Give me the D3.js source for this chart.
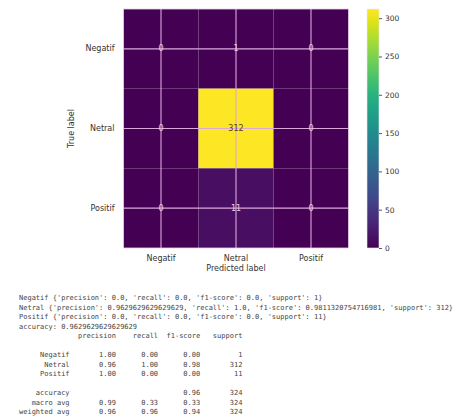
<!DOCTYPE html>
<html>
<head>
<meta charset="utf-8">
<script src="https://cdn.jsdelivr.net/npm/d3@7"></script>
<style>
  html, body { margin: 0; padding: 0; background: #fff; }
  svg { display: block; }
</style>
</head>
<body>
<svg id="chart" width="458" height="420"></svg>
<script>
// Class names shared by both axes
const classes = ["Negatif", "Netral", "Positif"];

// Confusion matrix: rows = true label, columns = predicted label
const matrix = [
  [0, 1, 0],
  [0, 312, 0],
  [0, 11, 0]
];

// Colour bar tick values
const colorTicks = [0, 50, 100, 150, 200, 250, 300];

// Per-class metrics as printed from the report dictionary
const dictPrecision = ["0.0", "0.9629629629629629", "0.0"];
const dictRecall = ["0.0", "1.0", "0.0"];
const dictF1 = ["0.0", "0.9811320754716981", "0.0"];
const dictSupport = [1, 312, 11];
const accuracyValue = "0.9629629629629629";

// Formatted classification report rows
const reportNames = ["Negatif", "Netral", "Positif"];
const reportPrecision = [1.00, 0.96, 1.00];
const reportRecall = [0.00, 1.00, 0.00];
const reportF1 = [0.00, 0.98, 0.00];
const reportSupport = [1, 312, 11];
const summaryNames = ["accuracy", "macro avg", "weighted avg"];
const summaryPrecision = [null, 0.99, 0.96];
const summaryRecall = [null, 0.33, 0.96];
const summaryF1 = [0.96, 0.33, 0.94];
const summarySupport = [324, 324, 324];

(function draw() {
const svg = d3.select("#chart");
const font = "'DejaVu Sans', sans-serif";

// ---- heatmap ----
const x0 = 123.5, x1 = 348.5, y0 = 9, y1 = 248;
const x = d3.scaleBand().domain(classes).range([x0, x1]);
const y = d3.scaleBand().domain(classes).range([y0, y1]);
const maxVal = d3.max(matrix.flat());
const color = d3.scaleSequential(d3.interpolateViridis).domain([0, maxVal]);

const cells = [];
matrix.forEach((row, i) => row.forEach((v, j) => cells.push({ t: classes[i], p: classes[j], v })));

svg.append("g").selectAll("rect")
  .data(cells)
  .join("rect")
  .attr("x", d => x(d.p))
  .attr("y", d => y(d.t))
  .attr("width", x.bandwidth())
  .attr("height", y.bandwidth())
  .attr("fill", d => color(d.v));

// grid lines through the cell centres
const grid = svg.append("g").attr("stroke", "#dca8dc").attr("stroke-width", 1.1);
classes.forEach(c => {
  const cx = x(c) + x.bandwidth() / 2;
  grid.append("line").attr("x1", cx).attr("x2", cx).attr("y1", y0).attr("y2", y1);
  const cy = y(c) + y.bandwidth() / 2;
  grid.append("line").attr("x1", x0).attr("x2", x1).attr("y1", cy).attr("y2", cy);
});

// outline
svg.append("rect")
  .attr("x", x0).attr("y", y0)
  .attr("width", x1 - x0).attr("height", y1 - y0)
  .attr("fill", "none").attr("stroke", "#e8cfe8").attr("stroke-width", 0.8);

// cell counts
svg.append("g").selectAll("text")
  .data(cells)
  .join("text")
  .attr("x", d => x(d.p) + x.bandwidth() / 2)
  .attr("y", d => y(d.t) + y.bandwidth() / 2)
  .attr("text-anchor", "middle")
  .attr("dominant-baseline", "central")
  .attr("font-family", font)
  .attr("font-size", 8)
  .attr("fill", d => d.v > maxVal / 2 ? "#5a3a10" : "#f0cce8")
  .text(d => d.v);

// axes
const xAxis = svg.append("g")
  .attr("transform", `translate(0,${y1})`)
  .call(d3.axisBottom(x).tickSize(0).tickPadding(7));
const yAxis = svg.append("g")
  .attr("transform", `translate(${x0},0)`)
  .call(d3.axisLeft(y).tickSize(0).tickPadding(9));
[xAxis, yAxis].forEach(g => {
  g.select(".domain").remove();
  g.selectAll("text").attr("font-family", font).attr("font-size", 8).attr("fill", "#333");
});

svg.append("text")
  .attr("x", (x0 + x1) / 2).attr("y", 271)
  .attr("text-anchor", "middle")
  .attr("font-family", font).attr("font-size", 8).attr("fill", "#333")
  .text("Predicted label");

svg.append("text")
  .attr("transform", `translate(74,${(y0 + y1) / 2}) rotate(-90)`)
  .attr("text-anchor", "middle")
  .attr("font-family", font).attr("font-size", 8).attr("fill", "#333")
  .text("True label");

// ---- colour bar ----
const cbX = 367, cbW = 12;
const cbScale = d3.scaleLinear().domain([0, maxVal]).range([y1, y0]);
const defs = svg.append("defs");
const grad = defs.append("linearGradient")
  .attr("id", "viridis-bar")
  .attr("x1", 0).attr("y1", 1).attr("x2", 0).attr("y2", 0);
d3.range(0, 1.0001, 0.05).forEach(t => {
  grad.append("stop").attr("offset", t).attr("stop-color", d3.interpolateViridis(t));
});
svg.append("rect")
  .attr("x", cbX).attr("y", y0)
  .attr("width", cbW).attr("height", y1 - y0)
  .attr("fill", "url(#viridis-bar)")
  .attr("stroke", "#f0e8f0").attr("stroke-width", 0.6);

const cbAxis = svg.append("g")
  .attr("transform", `translate(${cbX + cbW},0)`)
  .call(d3.axisRight(cbScale).tickValues(colorTicks).tickSize(3).tickPadding(3));
cbAxis.select(".domain").remove();
cbAxis.selectAll("line").attr("stroke", "#555");
cbAxis.selectAll("text").attr("font-family", font).attr("font-size", 7.5).attr("fill", "#333");

// ---- printed metrics ----
const pad = (s, w) => String(s).padStart(w, " ");
const f2 = v => v == null ? "" : v.toFixed(2);

const lines = [];
classes.forEach((c, i) => {
  lines.push(`${c} {'precision': ${dictPrecision[i]}, 'recall': ${dictRecall[i]}, 'f1-score': ${dictF1[i]}, 'support': ${dictSupport[i]}}`);
});
lines.push(`accuracy: ${accuracyValue}`);
lines.push(pad("", 12) + " " + [" precision", "    recall", "  f1-score", "   support"].join(""));
lines.push("");
reportNames.forEach((n, i) => {
  lines.push(pad(n, 12) + " " + pad(f2(reportPrecision[i]), 10) + pad(f2(reportRecall[i]), 10) +
    pad(f2(reportF1[i]), 10) + pad(reportSupport[i], 10));
});
lines.push("");
summaryNames.forEach((n, i) => {
  lines.push(pad(n, 12) + " " + pad(f2(summaryPrecision[i]), 10) + pad(f2(summaryRecall[i]), 10) +
    pad(f2(summaryF1[i]), 10) + pad(summarySupport[i], 10));
});

svg.append("g").selectAll("text")
  .data(lines)
  .join("text")
  .attr("x", 19)
  .attr("y", (d, i) => 298 + i * 9.5)
  .attr("dominant-baseline", "central")
  .attr("font-family", "'DejaVu Sans Mono', monospace")
  .attr("font-size", 7)
  .attr("fill", "#444")
  .style("white-space", "pre")
  .text(d => d);
})();
</script>
</body>
</html>
